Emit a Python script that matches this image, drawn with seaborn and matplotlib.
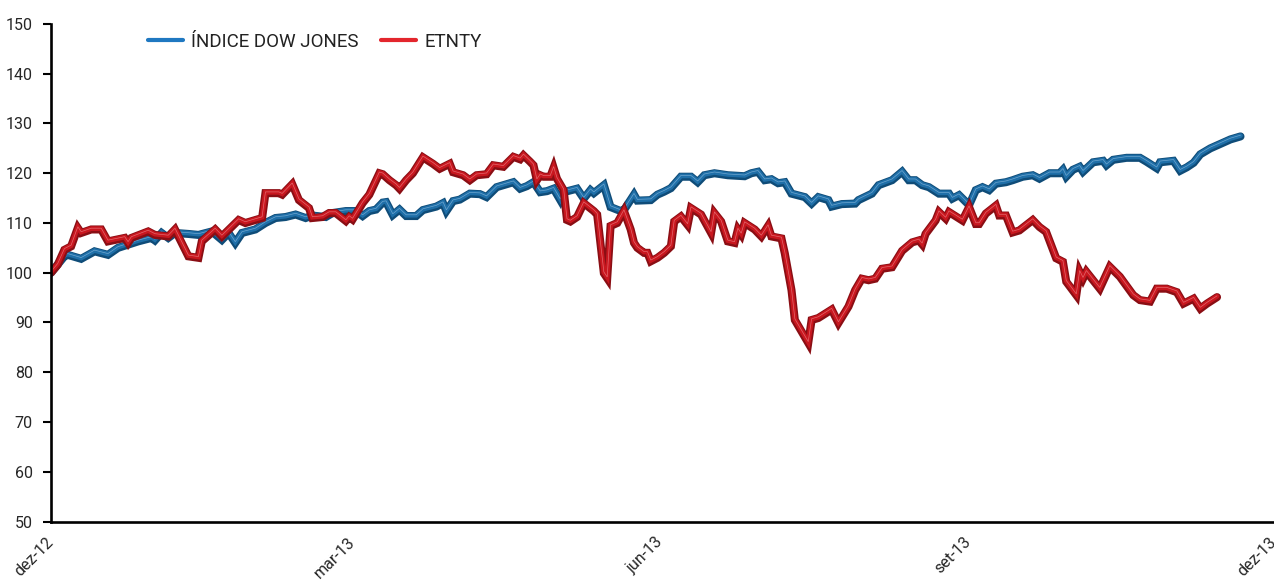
import numpy as np
import pandas as pd
import matplotlib
matplotlib.use("Agg")
import matplotlib.pyplot as plt
import matplotlib.patheffects as pe
from matplotlib.lines import Line2D
import seaborn as sns

# ---------------- data (day offsets from 2012-12-01, index base 100) -------------
dow_days = [0, 4, 5, 9, 13, 17, 20, 26, 30, 31,
            33, 35, 37, 41, 44, 48, 51, 53, 55, 57,
            61, 64, 67, 70, 73, 76, 78, 82, 84, 88,
            91, 93, 95, 97, 99, 100, 102, 104, 106, 109,
            111, 115, 117, 118, 120, 122, 125, 128, 130, 133,
            138, 140, 142, 144, 146, 148, 150, 152, 153, 157,
            159, 161, 162, 165, 167, 170, 171, 174, 175, 179,
            181, 183, 185, 188, 191, 193, 195, 198, 202, 207,
            209, 211, 213, 215, 217, 219, 221, 225, 227, 229,
            232, 233, 236, 240, 241, 245, 247, 251, 254, 256,
            258, 260, 262, 265, 268, 269, 271, 274, 276, 278,
            280, 282, 285, 287, 290, 293, 295, 298, 301, 302,
            303, 305, 307, 308, 311, 314, 315, 317, 321, 325,
            327, 330, 331, 335, 337, 339, 341, 343, 346, 350,
            352, 355]
dow_vals = [100.0, 103.3, 103.6, 102.8, 104.3, 103.6, 105.0, 106.3, 107.0, 106.5,
            108.0, 107.0, 108.0, 107.8, 107.6, 108.3, 106.6, 108.0, 106.0, 108.0,
            108.7, 110.0, 111.0, 111.2, 111.7, 111.0, 111.5, 111.2, 112.0, 112.4,
            112.4, 111.4, 112.4, 112.7, 114.1, 114.2, 111.6, 112.7, 111.4, 111.4,
            112.6, 113.3, 114.0, 112.4, 114.4, 114.7, 115.9, 115.8, 115.2, 117.2,
            118.2, 116.9, 117.4, 118.2, 116.2, 116.4, 116.9, 114.6, 116.2, 116.9,
            114.9, 116.6, 116.0, 117.6, 113.2, 112.4, 112.6, 115.7, 114.5, 114.6,
            115.7, 116.3, 117.0, 119.3, 119.3, 118.2, 119.6, 120.0, 119.6, 119.4,
            120.0, 120.3, 118.6, 118.8, 118.0, 118.2, 115.9, 115.2, 113.9, 115.2,
            114.6, 113.3, 113.8, 113.9, 114.6, 115.9, 117.6, 118.6, 120.3, 118.6,
            118.6, 117.6, 117.2, 115.9, 115.9, 114.9, 115.6, 113.6, 116.6, 117.2,
            116.6, 117.9, 118.2, 118.6, 119.3, 119.6, 118.9, 120.0, 120.0, 120.7,
            119.3, 120.7, 121.3, 120.3, 122.2, 122.5, 121.6, 122.7, 123.1, 123.1,
            122.3, 121.0, 122.2, 122.5, 120.5, 121.2, 122.1, 123.8, 125.0, 126.2,
            126.8, 127.4]

etn_days = [0, 2, 4, 6, 8, 9, 12, 15, 17, 22,
            23, 24, 29, 31, 35, 37, 41, 44, 45, 49,
            51, 56, 58, 63, 64, 68, 69, 72, 74, 77,
            78, 81, 83, 85, 88, 89, 90, 93, 95, 98,
            99, 101, 103, 104, 106, 108, 111, 114, 116, 119,
            120, 123, 125, 127, 130, 132, 135, 138, 140, 141,
            143, 144, 145, 146, 147, 149, 150, 151, 153, 154,
            155, 157, 159, 162, 163, 165, 166, 167, 169, 171,
            173, 174, 175, 177, 178, 179, 181, 183, 185, 186,
            187, 188, 190, 191, 194, 197, 198, 200, 202, 204,
            205, 206, 207, 210, 212, 214, 215, 218, 219, 221,
            222, 226, 227, 229, 233, 235, 238, 240, 242, 244,
            246, 248, 251, 254, 257, 259, 260, 261, 264, 265,
            267, 268, 272, 274, 276, 277, 279, 282, 283, 285,
            287, 289, 293, 295, 297, 300, 302, 303, 306, 307,
            308, 309, 313, 316, 319, 323, 325, 328, 330, 333,
            336, 338, 341, 343, 345, 348]
etn_vals = [100.0, 101.6, 104.6, 105.3, 109.0, 108.0, 108.7, 108.7, 106.3, 107.0,
            106.0, 107.0, 108.3, 107.6, 107.3, 108.7, 103.3, 103.0, 106.3, 108.7,
            107.3, 110.6, 110.0, 111.0, 116.0, 116.0, 115.7, 117.8, 114.6, 113.0,
            111.0, 111.2, 112.0, 112.0, 110.4, 111.2, 110.7, 114.0, 115.7, 120.0,
            119.8, 118.6, 117.6, 116.9, 118.6, 120.0, 123.2, 121.9, 120.9, 121.9,
            120.2, 119.6, 118.6, 119.6, 119.8, 121.6, 121.3, 123.3, 122.8, 123.6,
            122.3, 121.6, 118.6, 119.6, 119.3, 119.3, 121.1, 118.9, 116.6, 110.6,
            110.3, 111.2, 114.0, 112.4, 111.7, 99.9, 98.9, 109.4, 110.0, 112.4,
            108.7, 106.0, 105.0, 104.0, 104.0, 102.3, 103.0, 104.0, 105.3, 110.3,
            110.8, 111.3, 109.6, 113.0, 111.7, 108.0, 112.0, 110.3, 106.3, 106.0,
            108.7, 107.7, 110.0, 108.7, 107.3, 109.4, 107.3, 106.9, 103.9, 96.5,
            90.5, 85.9, 90.5, 90.9, 92.6, 89.9, 93.2, 96.5, 98.8, 98.5,
            98.8, 100.8, 101.1, 104.4, 106.1, 106.5, 105.7, 107.8, 110.5, 112.2,
            110.9, 112.2, 110.5, 113.2, 109.8, 109.8, 111.9, 113.5, 111.5, 111.5,
            108.1, 108.5, 110.6, 109.2, 108.2, 102.9, 102.2, 98.2, 95.5, 100.2,
            98.8, 100.2, 96.8, 101.2, 99.2, 95.5, 94.5, 94.2, 96.8, 96.8,
            96.1, 93.8, 94.8, 92.8, 93.8, 95.1]

series_names = ["ÍNDICE DOW JONES", "ETNTY"]
tick_dates = ["2012-12-01", "2013-03-01", "2013-06-01", "2013-09-01", "2013-12-01"]
tick_labels = ["dez-12", "mar-13", "jun-13", "set-13", "dez-13"]
y_ticks = list(range(50, 151, 10))

# ---------------- styling ----------------
base = pd.Timestamp("2012-12-01")
df_dow = pd.DataFrame({"date": base + pd.to_timedelta(dow_days, unit="D"),
                       "value": dow_vals, "serie": series_names[0]})
df_etn = pd.DataFrame({"date": base + pd.to_timedelta(etn_days, unit="D"),
                       "value": etn_vals, "serie": series_names[1]})

sns.set_theme(style="white")
plt.rcParams["font.family"] = ["Roboto", "DejaVu Sans"]
plt.rcParams["text.color"] = "#222222"

fig = plt.figure(figsize=(12.74, 5.81), dpi=100)
ax = fig.add_axes([51 / 1274, 59.5 / 581, 1 - 51 / 1274, (521.5 - 24) / 581])

ribbons = {
    series_names[0]: ("#0f4c78", "#1f6fa8", "#8fbde0"),
    series_names[1]: ("#8a0e14", "#c8171f", "#f08a8e"),
}
legend_cols = {series_names[0]: "#1f78c1", series_names[1]: "#e3262d"}

for df in (df_dow, df_etn):
    name = df["serie"].iloc[0]
    dark, face, light = ribbons[name]
    sns.lineplot(data=df, x="date", y="value", ax=ax, color=dark, linewidth=5.8,
                 legend=False, sort=True)
    line = ax.lines[-1]
    line.set_solid_joinstyle("miter")
    line.set_path_effects([
        pe.Normal(),
        pe.Stroke(linewidth=3.4, foreground=face, offset=(0, 0.6),
                  joinstyle="miter"),
        pe.Stroke(linewidth=0.5, foreground=light, alpha=0.7, offset=(0, 0.9)),
    ])

ax.set_xlim(base, pd.Timestamp(tick_dates[-1]))
ax.set_ylim(50, 150)
ax.set_yticks(y_ticks)
ax.set_yticklabels([str(v) for v in y_ticks], fontsize=11.5)
ax.set_xticks(pd.to_datetime(tick_dates))
ax.set_xticklabels(tick_labels, fontsize=11.5, rotation=45, ha="right",
                   va="center", rotation_mode="anchor")
ax.set_xlabel("")
ax.set_ylabel("")

for side in ("top", "right"):
    ax.spines[side].set_visible(False)
for side in ("left", "bottom"):
    ax.spines[side].set_color("black")
    ax.spines[side].set_linewidth(1.9)

ax.tick_params(axis="y", length=6, width=1.5, color="black", pad=7, left=True)
ax.tick_params(axis="x", length=0, pad=13)
ax.grid(False)

handles = [Line2D([0], [0], color=legend_cols[n], lw=3) for n in series_names]
ax.legend(handles, series_names, loc="center left",
          bbox_to_anchor=(97 / 1223, 1 - 18 / 497.5), ncol=2, frameon=False,
          fontsize=13.5, handlelength=1.85, handletextpad=0.45,
          columnspacing=1.2, borderpad=0, borderaxespad=0)

fig.savefig("out.png", dpi=100, facecolor="white")
